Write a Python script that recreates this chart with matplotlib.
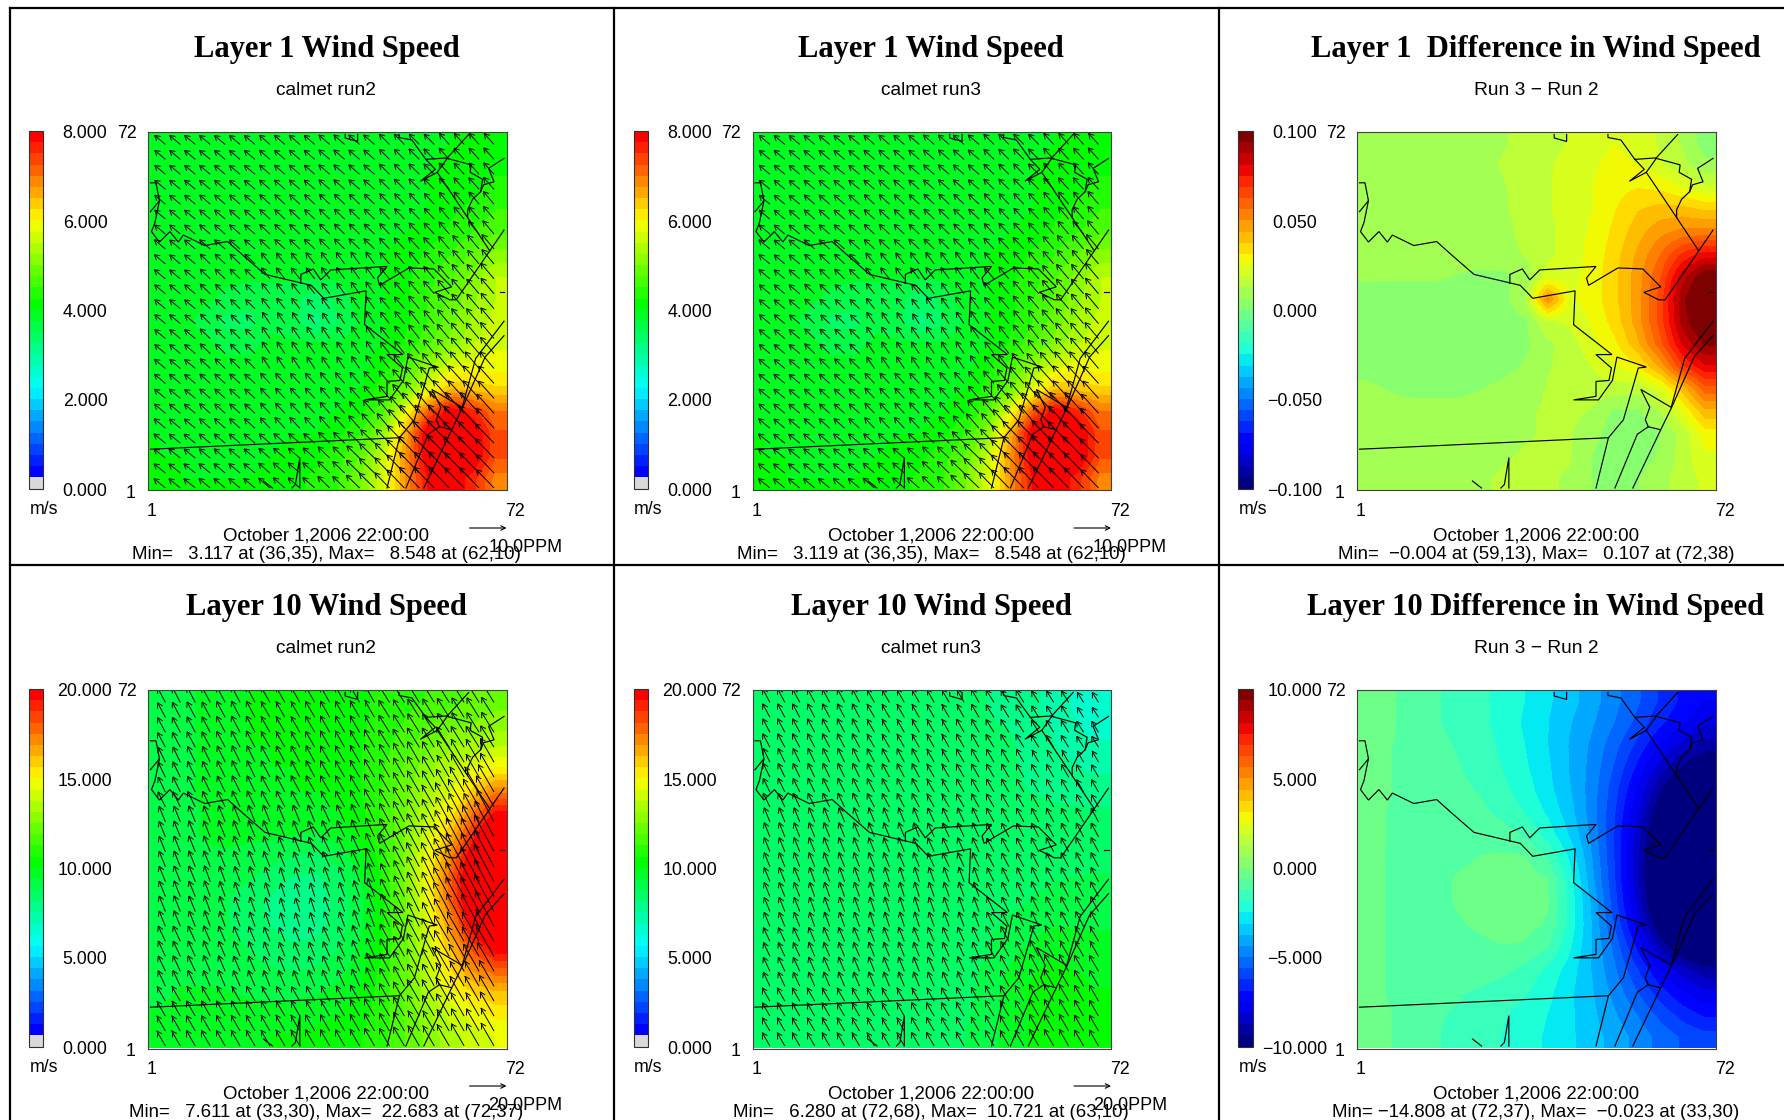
import numpy as np
import matplotlib
matplotlib.use('Agg')
import matplotlib.pyplot as plt
from matplotlib.collections import LineCollection
from matplotlib.colors import LinearSegmentedColormap, ListedColormap

plt.rcParams['font.family'] = ['Liberation Sans', 'DejaVu Sans']

# wind speed, rows from y=72 down to y=1
layer1_run2 = [
    [3.8, 3.8, 3.8, 3.8, 3.8, 3.8, 3.8, 3.8, 3.9, 3.9, 3.9, 3.9, 3.9, 4.0, 4.0, 4.0],
    [3.8, 3.8, 3.8, 3.8, 3.8, 3.8, 3.8, 3.8, 3.9, 3.9, 3.9, 3.9, 4.0, 4.1, 4.1, 4.2],
    [3.8, 3.8, 3.8, 3.8, 3.8, 3.8, 3.8, 3.8, 3.9, 3.9, 3.9, 3.9, 4.0, 4.1, 4.2, 4.3],
    [3.8, 3.8, 3.8, 3.8, 3.8, 3.8, 3.8, 3.8, 3.9, 3.9, 3.9, 3.9, 4.0, 4.2, 4.3, 4.5],
    [3.8, 3.8, 3.8, 3.8, 3.8, 3.8, 3.8, 3.8, 3.9, 3.9, 3.9, 4.0, 4.1, 4.3, 4.5, 4.7],
    [3.9, 3.8, 3.8, 3.8, 3.8, 3.8, 3.8, 3.9, 3.9, 4.0, 4.0, 4.1, 4.3, 4.5, 4.8, 5.1],
    [3.9, 3.8, 3.8, 3.8, 3.8, 3.8, 3.8, 3.8, 3.8, 3.9, 4.0, 4.2, 4.4, 4.7, 5.1, 5.5],
    [3.8, 3.8, 3.8, 3.7, 3.6, 3.6, 3.6, 3.3, 3.6, 3.9, 4.0, 4.2, 4.5, 4.8, 5.2, 5.5],
    [3.8, 3.8, 3.7, 3.4, 3.4, 3.7, 3.6, 3.2, 3.5, 3.8, 4.0, 4.2, 4.5, 4.9, 5.3, 5.6],
    [3.8, 3.8, 3.8, 3.7, 3.7, 3.8, 3.8, 3.8, 3.8, 3.9, 4.0, 4.3, 4.7, 5.1, 5.5, 5.7],
    [3.9, 3.8, 3.8, 3.8, 3.8, 3.8, 3.8, 3.8, 3.8, 3.9, 4.2, 4.6, 5.2, 5.7, 5.9, 5.9],
    [3.9, 3.9, 3.8, 3.8, 3.8, 3.8, 3.8, 3.8, 3.9, 4.0, 4.4, 4.9, 5.8, 6.5, 6.4, 6.3],
    [3.9, 3.9, 3.9, 3.8, 3.8, 3.8, 3.8, 3.9, 4.0, 4.2, 4.7, 5.9, 7.2, 8.0, 7.6, 7.0],
    [4.0, 3.9, 3.9, 3.9, 3.9, 3.9, 4.0, 4.0, 4.2, 4.5, 5.2, 6.6, 8.2, 8.5, 8.1, 7.3],
    [4.0, 4.0, 3.9, 3.9, 3.9, 4.0, 4.1, 4.2, 4.4, 4.8, 5.6, 6.8, 8.1, 8.5, 8.1, 7.3],
    [4.0, 4.0, 4.0, 4.0, 4.0, 4.1, 4.2, 4.3, 4.5, 5.0, 5.7, 6.8, 7.8, 8.0, 7.6, 6.9],
]

# run 3 differs by at most 0.1 m/s here, which does not show at this colour step
layer1_run3 = layer1_run2

layer1_diff = [
    [.008, .008, .008, .009, .010, .011, .012, .014, .017, .019, .022, .025, .022, .018, .012, .003],
    [.008, .008, .008, .009, .010, .011, .013, .015, .018, .021, .024, .027, .025, .020, .014, .008],
    [.007, .007, .008, .009, .010, .011, .012, .015, .018, .022, .025, .029, .031, .030, .025, .020],
    [.007, .007, .007, .008, .009, .010, .012, .014, .018, .022, .025, .031, .037, .040, .040, .037],
    [.007, .007, .007, .008, .009, .010, .011, .014, .017, .022, .026, .033, .041, .048, .052, .053],
    [.007, .007, .007, .007, .008, .009, .010, .013, .017, .022, .027, .035, .045, .056, .070, .078],
    [.007, .007, .007, .007, .006, .005, .005, .008, .022, .022, .028, .036, .047, .062, .085, .100],
    [.004, .003, .003, .003, .003, .003, .004, .012, .052, .024, .028, .036, .047, .065, .092, .107],
    [.004, .003, .003, .003, .003, .003, .003, .005, .018, .020, .026, .034, .047, .065, .090, .104],
    [.004, .003, .003, .003, .003, .003, .003, .005, .011, .016, .023, .030, .042, .060, .082, .095],
    [.005, .004, .003, .003, .003, .003, .004, .007, .012, .015, .019, .024, .030, .045, .068, .080],
    [.007, .006, .005, .005, .005, .006, .008, .010, .013, .015, .016, .016, .015, .022, .040, .060],
    [.008, .008, .008, .008, .008, .009, .010, .012, .013, .014, .012, .005, .005, .012, .025, .042],
    [.008, .008, .008, .009, .009, .010, .011, .012, .013, .013, .009, .002, .002, .006, .015, .028],
    [.009, .009, .009, .009, .010, .011, .012, .013, .013, .013, .006, .001, .003, .007, .015, .024],
    [.009, .009, .010, .010, .010, .012, .013, .013, .013, .012, .006, .003, .006, .010, .016, .020],
]

layer10_run2 = [
    [9.0, 9.2, 9.5, 9.7, 10, 10, 10, 10.1, 10.3, 10.5, 10.8, 11, 11.3, 11.7, 12, 12.2],
    [9.0, 9.2, 9.5, 9.8, 10, 10, 10, 10.1, 10.3, 10.5, 10.9, 11.3, 11.8, 12.2, 12.5, 12.8],
    [9.0, 9.2, 9.5, 9.8, 10, 10, 10, 10.1, 10.3, 10.6, 11, 11.6, 12.3, 13, 13.3, 13.7],
    [9.0, 9.2, 9.5, 9.8, 9.9, 10, 10, 10.1, 10.3, 10.6, 11.2, 12, 12.9, 13.7, 14.4, 15],
    [9.0, 9.2, 9.5, 9.7, 9.8, 9.9, 10, 10, 10.2, 10.6, 11.3, 12.3, 13.3, 14.3, 15.8, 17.2],
    [9.1, 9.2, 9.4, 9.6, 9.7, 9.8, 9.8, 9.8, 10, 10.5, 11.3, 12.5, 13.8, 15.2, 17.5, 19.5],
    [9.1, 9.3, 9.4, 9.5, 9.5, 9.5, 9.4, 9.3, 9.7, 10.2, 11.2, 12.6, 14.2, 16.2, 19, 22],
    [9.1, 9.2, 9.3, 9.3, 9.2, 9.0, 8.7, 8.6, 9.0, 9.8, 11, 12.7, 14.8, 17.3, 20.5, 22.5],
    [9.1, 9.2, 9.2, 9.0, 8.8, 8.4, 8, 8, 8.5, 9.4, 10.8, 12.7, 15, 18, 21, 22.7],
    [9.1, 9.2, 9.1, 8.8, 8.4, 8.0, 7.7, 7.8, 8.3, 9.2, 10.6, 12.5, 14.8, 17.8, 21, 22.6],
    [9.1, 9.2, 9.1, 8.8, 8.4, 8.1, 7.8, 7.9, 8.4, 9.3, 10.6, 12.4, 14.4, 17, 20, 21.5],
    [9.2, 9.2, 9.2, 9.0, 8.7, 8.4, 8.2, 8.3, 8.7, 9.5, 10.7, 12.3, 14, 16.2, 18.5, 20],
    [9.2, 9.3, 9.3, 9.2, 9.0, 8.8, 8.7, 8.8, 9.1, 9.8, 10.9, 12.2, 13.8, 15.6, 17, 18],
    [9.3, 9.4, 9.4, 9.4, 9.3, 9.2, 9.2, 9.3, 9.6, 10.1, 11, 12.1, 13.5, 14.8, 15.7, 16.2],
    [9.4, 9.5, 9.6, 9.6, 9.6, 9.6, 9.7, 9.8, 10, 10.4, 11, 12, 13, 14, 14.7, 15.2],
    [9.5, 9.6, 9.7, 9.8, 9.9, 10, 10.1, 10.2, 10.3, 10.6, 11.1, 11.9, 12.7, 13.5, 14, 14.4],
]

layer10_run3 = [
    [8.3, 8.3, 8.3, 8.3, 8.3, 8.2, 8.0, 7.3, 6.4],
    [8.3, 8.3, 8.3, 8.3, 8.3, 8.3, 8.2, 7.6, 7.0],
    [8.3, 8.3, 8.3, 8.3, 8.3, 8.3, 8.2, 8.0, 7.8],
    [8.3, 8.3, 8.3, 8.3, 8.3, 8.4, 8.4, 8.4, 8.5],
    [8.3, 8.3, 8.3, 8.3, 8.3, 8.4, 8.4, 8.6, 8.7],
    [8.3, 8.3, 8.3, 8.3, 8.3, 8.4, 8.7, 9.0, 9.1],
    [8.3, 8.3, 8.3, 8.3, 8.3, 8.5, 9.2, 9.8, 9.6],
    [8.4, 8.4, 8.4, 8.4, 8.4, 8.7, 9.7, 10.6, 10.0],
    [8.4, 8.4, 8.4, 8.4, 8.5, 8.8, 9.7, 10.5, 10.0],
]

layer10_diff = [
    [-.4, -.5, -1, -1.2, -1.4, -1.7, -2.1, -2.5, -3, -3.5, -4.1, -4.8, -5.5, -6.3, -7, -7.5],
    [-.4, -.5, -1, -1.2, -1.4, -1.7, -2.1, -2.6, -3.1, -3.7, -4.3, -5, -5.8, -6.7, -7.4, -8],
    [-.3, -.6, -.9, -1.1, -1.3, -1.6, -2, -2.5, -3.1, -3.8, -4.5, -5.4, -6.4, -7.5, -8.3, -9],
    [-.3, -.6, -.9, -1.1, -1.2, -1.5, -1.9, -2.4, -3, -3.8, -4.6, -5.7, -7, -8.4, -9.5, -10.3],
    [-.3, -.6, -.9, -1, -1.1, -1.3, -1.7, -2.2, -2.9, -3.7, -4.7, -6, -7.6, -9.3, -10.8, -11.8],
    [-.3, -.7, -.9, -1, -1, -1.1, -1.4, -1.9, -2.6, -3.5, -4.7, -6.2, -8, -10, -12, -13],
    [-.3, -.7, -.9, -1, -1, -.9, -1, -1.3, -2.1, -3.2, -4.6, -6.3, -8.4, -10.6, -13, -14.2],
    [-.4, -.7, -.9, -.9, -.8, -.6, -.5, -.55, -1.3, -2.6, -4.4, -6.3, -8.6, -11, -13.5, -14.7],
    [-.4, -.7, -.9, -.85, -.55, -.4, -.25, -.3, -.6, -2.2, -4.2, -6.2, -8.6, -11, -13.5, -14.8],
    [-.4, -.7, -.9, -.85, -.55, -.35, -.1, -.2, -.55, -2.1, -3.9, -6, -8.3, -10.8, -13, -14.5],
    [-.4, -.7, -.9, -.9, -.7, -.5, -.3, -.4, -.7, -2.1, -3.8, -5.7, -7.8, -10, -11.8, -13],
    [-.4, -.7, -.9, -1, -.9, -.8, -.65, -.7, -1.2, -2.4, -3.8, -5.2, -7, -8.8, -10.3, -11],
    [-.4, -.7, -1, -1, -1, -1, -1.1, -1.4, -2, -2.8, -3.8, -4.9, -6.2, -7.5, -8.5, -9.2],
    [-.4, -.7, -1, -1.1, -1.2, -1.3, -1.5, -1.8, -2.3, -3, -3.7, -4.6, -5.6, -6.6, -7.4, -8],
    [-.4, -.6, -1, -1.2, -1.3, -1.5, -1.8, -2.1, -2.5, -3, -3.6, -4.3, -5, -5.8, -6.5, -7],
    [-.3, -.6, -1, -1.2, -1.4, -1.6, -1.9, -2.2, -2.6, -3, -3.5, -4, -4.6, -5.2, -5.7, -6],
]

# arrow direction in degrees from +x, coarse blocks, rows from the top
layer1_dir = [
    [140, 140, 139, 139, 135, 132],
    [140, 139, 137, 136, 133, 130],
    [140, 136, 128, 126, 130, 130],
    [140, 136, 124, 124, 128, 130],
    [140, 138, 133, 131, 130, 132],
    [141, 140, 139, 136, 134, 134],
]
layer10_dir = [
    [118, 118, 120, 120, 122, 122],
    [116, 116, 118, 120, 120, 120],
    [112, 112, 112, 115, 118, 118],
    [112, 110, 108, 110, 116, 118],
    [115, 113, 112, 114, 118, 120],
    [120, 120, 120, 120, 120, 120],
]

arrow_xs = list(range(4, 71, 3))
arrow_ys = list(range(1, 71, 3))

# state and coast outlines in grid cells
map_lines = [
    [(1, 62.3), (2.1, 62.3), (2.8, 58.7), (1.9, 54.3), (1.2, 52.5), (2.8, 50.4), (4.9, 52.5), (6.6, 50.4),
     (7.6, 51.8), (11.9, 49.7), (16.5, 50.5), (19.4, 47.9), (24, 43.9), (33.3, 41.7), (35.8, 39.1), (44.3, 40.6),
     (44, 33.8), (51.7, 27.8), (48.5, 27.8), (51.6, 25.1), (51.1, 22.6), (48.5, 22.4), (48.5, 19.4), (44, 18.7),
     (49, 18.7), (51.8, 22.6), (52.7, 27.3), (58.6, 25.3), (57, 25.1), (54, 14.7), (51, 11.1), (3.4, 8.9), (1, 8.8)],
    [(1, 56.5), (2.8, 58.7)],
    [(31.2, 42.1), (31.2, 43.9), (33.7, 45), (35.2, 42.8), (37.2, 44.8), (48.5, 45.5), (46.6, 43.2), (47, 41.7),
     (52.9, 45.2), (57.9, 45), (61.5, 41.4), (58.1, 40.3), (61.1, 38.8), (62.4, 38.8), (72, 52.8)],
    [(40.1, 72), (40.1, 71.3), (42.6, 70.6), (42.6, 72)],
    [(50.9, 72), (50.9, 71.4), (53.5, 70.9), (56.3, 67), (58.2, 65), (55.2, 62.6), (58.6, 64.4), (64.7, 55.3), (69.1, 48.7)],
    [(56.3, 67), (60.6, 67.3), (64.9, 72)],
    [(60.6, 67.2), (58.6, 64.4)],
    [(60.6, 67.2), (65.4, 65.9), (65.2, 64.4), (67.7, 63), (67.3, 60.5), (65.7, 59), (64.7, 56.9), (64.7, 55.3)],
    [(67.3, 60.5), (67.9, 61.9), (70, 62.5), (68.9, 65.2), (70, 65.9), (72, 67.2)],
    [(72, 34.5), (66.3, 27), (63.6, 17.2), (57.5, 20.8), (59.3, 17.2), (58.4, 14.7), (59, 13.3), (61.5, 12.7), (55.9, 1)],
    [(72, 31.6), (68.2, 27.3), (63.7, 17.2), (61.5, 12.7)],
    [(59, 13.3), (56.8, 11.8), (52.3, 1)],
    [(51, 11.1), (48.5, 1)],
    [(23.7, 2.4), (25.5, 1)],
    [(29.4, 1), (30.1, 1.7), (31, 7.1), (31, 1)],
    [(71.1, 40.3), (72, 40.3)],
]

titles = ['Layer 1 Wind Speed', 'Layer 1 Wind Speed', 'Layer 1  Difference in Wind Speed',
          'Layer 10 Wind Speed', 'Layer 10 Wind Speed', 'Layer 10 Difference in Wind Speed']
subtitles = ['calmet run2', 'calmet run3', 'Run 3 \u2212 Run 2'] * 2
min_max = [
    'Min=   3.117 at (36,35), Max=   8.548 at (62,10)',
    'Min=   3.119 at (36,35), Max=   8.548 at (62,10)',
    'Min=  \u22120.004 at (59,13), Max=   0.107 at (72,38)',
    'Min=   7.611 at (33,30), Max=  22.683 at (72,37)',
    'Min=   6.280 at (72,68), Max=  10.721 at (63,10)',
    'Min= \u221214.808 at (72,37), Max=  \u22120.023 at (33,30)',
]
bar_labels = [
    ['8.000', '6.000', '4.000', '2.000', '0.000'],
    ['8.000', '6.000', '4.000', '2.000', '0.000'],
    ['0.100', '0.050', '0.000', '\u22120.050', '\u22120.100'],
    ['20.000', '15.000', '10.000', '5.000', '0.000'],
    ['20.000', '15.000', '10.000', '5.000', '0.000'],
    ['10.000', '5.000', '0.000', '\u22125.000', '\u221210.000'],
]
fields = [layer1_run2, layer1_run3, layer1_diff, layer10_run2, layer10_run3, layer10_diff]
limits = [(0, 8), (0, 8), (-.1, .1), (0, 20), (0, 20), (-10, 10)]
dirs = [layer1_dir, layer1_dir, None, layer10_dir, layer10_dir, None]
ref_speed = [10.0, 10.0, None, 20.0, 20.0, None]

W, H = 1784, 1120
ref_len = 37.0  # px of the reference arrow
cell = 5.0      # px per grid cell

wind_colors = LinearSegmentedColormap.from_list(
    'wind', ['#0000ff', '#00ffff', '#00ff00', '#ffff00', '#ff0000'])(np.linspace(0, 1, 31))
wind_cmap = ListedColormap(np.vstack([[[.85, .85, .85, 1]], wind_colors]))
jet_cmap = plt.get_cmap('jet', 32)

fig = plt.figure(figsize=(W / 100, H / 100), dpi=100)

page = fig.add_axes([0, 0, 1, 1])
page.set_xlim(0, W)
page.set_ylim(H, 0)
page.axis('off')

# frame
for x in [10, 614, 1219]:
    page.plot([x, x], [8, H], color='black', lw=1.6)
page.plot([10, W], [8, 8], color='black', lw=1.6)
page.plot([10, W], [565, 565], color='black', lw=1.6)


def px_axes(x0, y0, x1, y1):
    return fig.add_axes([x0 / W, 1 - y1 / H, (x1 - x0) / W, (y1 - y0) / H])


def arrow_lines(field, direction, speed_scale):
    f = np.array(field)
    d = np.array(direction)
    segs = []
    for y in arrow_ys:
        for x in arrow_xs:
            row = min(int((72.5 - y) / 72 * f.shape[0]), f.shape[0] - 1)
            col = min(int((x - 0.5) / 72 * f.shape[1]), f.shape[1] - 1)
            drow = min(int((72.5 - y) / 72 * d.shape[0]), d.shape[0] - 1)
            dcol = min(int((x - 0.5) / 72 * d.shape[1]), d.shape[1] - 1)
            ang = np.radians(d[drow, dcol])
            n = f[row, col] * speed_scale
            hx, hy = x + n * np.cos(ang), y + n * np.sin(ang)
            segs.append([(x, y), (hx, hy)])
            # open head
            for b in [ang + np.radians(150), ang - np.radians(150)]:
                segs.append([(hx, hy), (hx + 1.2 * np.cos(b), hy + 1.2 * np.sin(b))])
    return segs


for i in range(6):
    col, row = i % 3, i // 3
    dx = [0, 604.5, 1209][col]
    dy = 558 * row
    ax_x0 = [148, 752.5, 1357][col]
    ax_x1 = ax_x0 + 358.5
    ax_y0 = 132 + dy
    ax_y1 = ax_y0 + 358.5
    bar_x0 = [29, 633.5, 1238][col]
    bar_w = 14 if col < 2 else 15
    bar_mid = [85, 689.5, 1295][col]
    mid = [326.5, 931, 1536][col]

    ax = px_axes(ax_x0, ax_y0, ax_x1, ax_y1)
    vmin, vmax = limits[i]
    cmap = jet_cmap if col == 2 else wind_cmap
    im = ax.imshow(np.array(fields[i]), cmap=cmap, vmin=vmin, vmax=vmax, extent=(0.5, 72.5, 0.5, 72.5),
                   aspect='auto', interpolation='bilinear', interpolation_stage='data')
    for line in map_lines:
        xs = [p[0] for p in line]
        ys = [p[1] for p in line]
        ax.plot(xs, ys, color='black', lw=0.85, solid_joinstyle='miter')
    if dirs[i] is not None:
        segs = arrow_lines(fields[i], dirs[i], ref_len / ref_speed[i] / cell)
        ax.add_collection(LineCollection(segs, colors='black', linewidths=0.7))
    ax.set_xlim(0.5, 72.5)
    ax.set_ylim(0.5, 72.5)
    ax.set_xticks([])
    ax.set_yticks([])
    for s in ax.spines.values():
        s.set_color('#404040')
        s.set_linewidth(0.8)

    cax = px_axes(bar_x0, ax_y0 - 1, bar_x0 + bar_w, ax_y1 - 2)
    cb = fig.colorbar(im, cax=cax)
    cb.set_ticks([])
    cb.outline.set_edgecolor('#303030')
    cb.outline.set_linewidth(0.8)

    page.text(mid, 49.8 + dy, titles[i], family='Liberation Serif', weight='bold', fontsize=22,
              ha='center', va='center')
    page.text(mid, 90.5 + dy, subtitles[i], fontsize=13.8, ha='center', va='center')

    for k, lab in enumerate(bar_labels[i]):
        page.text(bar_mid, ax_y0 + 1.5 + k * 89.5, lab, fontsize=12.8, ha='center', va='center')
    page.text(bar_x0 + 15, ax_y1 + 19.5, 'm/s', fontsize=12.8, ha='center', va='center')

    page.text(ax_x0 - 11.5, ax_y0 + 1.5, '72', fontsize=12.8, ha='right', va='center')
    page.text(ax_x0 - 12.5, ax_y1 + 2.5, '1', fontsize=12.8, ha='right', va='center')
    page.text(ax_x0 + 4, ax_y1 + 21, '1', fontsize=12.8, ha='center', va='center')
    page.text(ax_x1 + 9, ax_y1 + 21, '72', fontsize=12.8, ha='center', va='center')

    page.text(mid, 536 + dy, 'October 1,2006 22:00:00', fontsize=13.4, ha='center', va='center')
    page.text(mid, 554.5 + dy, min_max[i], fontsize=13.4, ha='center', va='center')

    if ref_speed[i] is not None:
        page.annotate('', xy=(ax_x1, 528 + dy), xytext=(ax_x1 - ref_len, 528 + dy),
                      arrowprops=dict(arrowstyle='->', lw=0.8, color='black', shrinkA=0, shrinkB=0,
                                      mutation_scale=8))
        page.text(ax_x1 - 18, 547.5 + dy, '%.1fPPM' % ref_speed[i], fontsize=13, ha='left', va='center')

fig.savefig('out.png', dpi=100)
